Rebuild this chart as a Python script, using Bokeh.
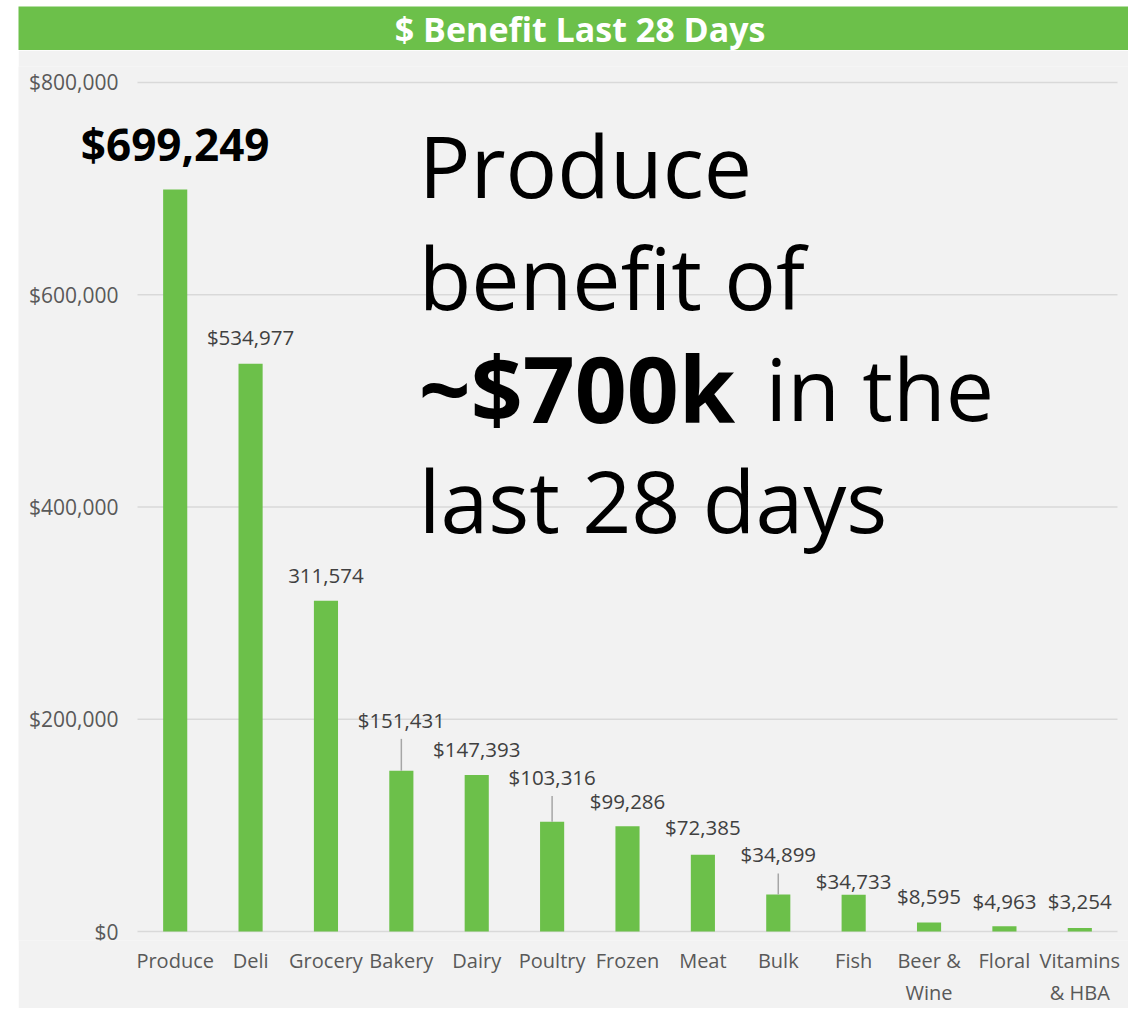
from bokeh.plotting import figure
from bokeh.models import ColumnDataSource, FixedTicker, Label, Range1d
from bokeh.layouts import column
from bokeh.core.properties import value
from bokeh.embed import file_html
from bokeh.resources import INLINE

# ---------------- data ----------------
categories = ["Produce", "Deli", "Grocery", "Bakery", "Dairy", "Poultry", "Frozen",
              "Meat", "Bulk", "Fish", "Beer &\nWine", "Floral", "Vitamins\n& HBA"]
values = [699249, 534977, 311574, 151431, 147393, 103316, 99286,
          72385, 34899, 34733, 8595, 4963, 3254]
value_labels = ["$699,249", "$534,977", "311,574", "$151,431", "$147,393", "$103,316",
                "$99,286", "$72,385", "$34,899", "$34,733", "$8,595", "$4,963", "$3,254"]
y_ticks = [0, 200000, 400000, 600000, 800000]
title_text = "$ Benefit Last 28 Days"

# ---------------- style / layout ----------------
GREEN = "#6cc04a"
PANEL = "#f2f2f2"
GRID = "#d9d9d9"
FONT = "Open Sans"
label_lift_px = [45, 27, 25, 51, 26, 45, 25, 28, 40, 14, 26, 25, 27]
has_leader = [False, False, False, True, False, True, False, False, True, False, False, False, False]

W = 1110
TITLE_H = 44
CHART_H = 958
TOP = 16
PLOT_H_PX = 851                       # height of the 0..800k span
PAD_TOP_PX, PAD_BOTTOM_PX = 16, 9     # room above 800k / below 0 inside the frame
BOTTOM = CHART_H - TOP - PLOT_H_PX - PAD_TOP_PX - PAD_BOTTOM_PX
PAD_LEFT_PX, PAD_RIGHT_PX = 119, 11   # room left/right of the category area
n = len(categories)
xs = list(range(n))
px_per_cat = (W - PAD_LEFT_PX - PAD_RIGHT_PX) / n
y_max = y_ticks[-1]
per_px = y_max / PLOT_H_PX

# ---------------- title bar ----------------
tf = figure(width=W, height=TITLE_H, x_range=Range1d(0, 1), y_range=Range1d(0, 1),
            output_backend="svg", toolbar_location=None, min_border=0)
tf.axis.visible = False
tf.grid.visible = False
tf.outline_line_color = None
tf.background_fill_color = GREEN
tf.border_fill_color = GREEN
tf.text(x=[0.506], y=[0.5], text=[title_text], text_align="center", text_baseline="middle",
        text_color="white", text_font=value(FONT), text_font_style="bold",
        text_font_size="34px")

# ---------------- chart ----------------
x_start = -0.5 - PAD_LEFT_PX / px_per_cat
x_end = n - 0.5 + PAD_RIGHT_PX / px_per_cat
y_start = -PAD_BOTTOM_PX * per_px
y_end = y_max + PAD_TOP_PX * per_px
p = figure(width=W, height=CHART_H, x_range=Range1d(x_start, x_end),
           y_range=Range1d(y_start, y_end), output_backend="svg", toolbar_location=None,
           min_border_left=0, min_border_right=0, min_border_top=TOP,
           min_border_bottom=BOTTOM)
p.background_fill_color = PANEL
p.border_fill_color = PANEL
p.outline_line_color = None
p.grid.visible = False
p.yaxis.visible = False

p.xaxis.ticker = FixedTicker(ticks=xs)
p.xaxis.major_label_overrides = {i: c for i, c in zip(xs, categories)}
p.xaxis.axis_line_color = None
p.xaxis.major_tick_line_color = None
p.xaxis.minor_tick_line_color = None
p.xaxis.major_label_standoff = 0
p.xaxis.major_label_text_font = FONT
p.xaxis.major_label_text_font_size = "20px"
p.xaxis.major_label_text_color = "#595959"

# horizontal gridlines (only across the category area)
p.segment(x0=[-0.5] * len(y_ticks), x1=[n - 0.5] * len(y_ticks), y0=y_ticks, y1=y_ticks,
          line_color=GRID, line_width=1.5)
# y tick labels
p.text(x=[-0.5] * len(y_ticks), y=y_ticks, text=[f"${t:,}" for t in y_ticks], x_offset=-19,
       text_align="right", text_baseline="middle", text_font=value(FONT),
       text_font_size="21px", text_color="#595959")

src = ColumnDataSource(dict(x=xs, val=values))
p.vbar(x="x", top="val", width=0.32, source=src, fill_color=GREEN, line_color=None)

# leader lines
lx, ly0, ly1 = [], [], []
for i, v, l, h in zip(xs, values, label_lift_px, has_leader):
    if h:
        lx.append(i)
        ly0.append(v)
        ly1.append(v + (l - 19) * per_px)
p.segment(x0=lx, y0=ly0, x1=lx, y1=ly1, line_color="#a6a6a6", line_width=1.5)

# normal value labels
rest = ColumnDataSource(dict(x=xs[1:], val=values[1:], lab=value_labels[1:],
                             off=[-l for l in label_lift_px[1:]]))
p.text(x="x", y="val", text="lab", y_offset="off", source=rest, text_align="center",
       text_baseline="middle", text_font=value(FONT), text_font_size="20.5px",
       text_color="#404040")
# highlighted label
p.text(x=[xs[0]], y=[values[0]], text=[value_labels[0]], y_offset=-label_lift_px[0],
       text_align="center", text_baseline="middle", text_font=value(FONT),
       text_font_size="44px", text_font_style="bold", text_color="black")

# callout text
cx = 3.23
big = "86px"
for txt, yy in [("Produce", 723000), ("benefit of", 617500), ("last 28 days", 407000)]:
    p.add_layout(Label(x=cx, y=yy, text=txt, text_font=FONT, text_font_size=big,
                       text_color="black", text_baseline="alphabetic"))
p.add_layout(Label(x=cx, y=512300, text="~$700k", text_font=FONT, text_font_size="91px",
                   text_font_style="bold", text_color="black", text_baseline="alphabetic"))
p.add_layout(Label(x=7.83, y=512300, text="in the", text_font=FONT, text_font_size=big,
                   text_color="black", text_baseline="alphabetic"))

layout = column(tf, p, spacing=0, margin=(6, 0, 0, 18))
open("out.html", "w").write(file_html(layout, INLINE))
